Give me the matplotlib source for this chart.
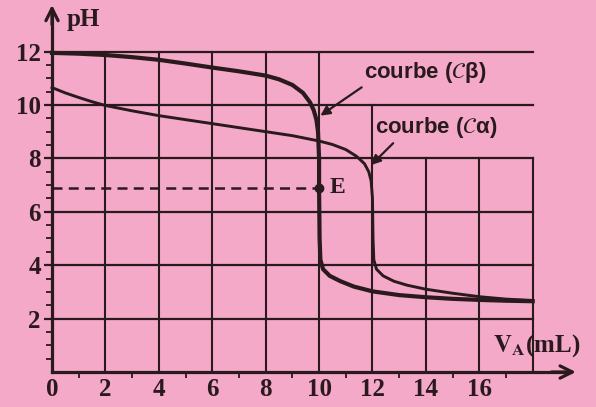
import numpy as np
import matplotlib
matplotlib.use("Agg")
import matplotlib.pyplot as plt

# values
vb_x = [0, 1, 2, 3, 4, 5, 6, 7, 8, 8.5, 9.0, 9.4, 9.66, 9.8, 9.9, 9.96, 10.0, 10.0,
        10.02, 10.05, 10.15, 10.4, 10.8, 11.3, 12, 13, 14, 15, 16, 17, 18]
ph_b = [11.95, 11.92, 11.87, 11.79, 11.69, 11.55, 11.4, 11.26, 11.1, 10.96, 10.75,
        10.45, 10.1, 9.8, 9.45, 9.0, 8.0, 6.9, 5.0, 4.2, 3.85, 3.6, 3.4, 3.2, 3.02,
        2.88, 2.8, 2.74, 2.7, 2.67, 2.65]

va_x = [0, 0.5, 1, 1.5, 2, 3, 4, 5, 6, 7, 8, 9, 10, 10.5, 11, 11.4, 11.7, 11.86, 11.95,
        12.0, 12.02, 12.05, 12.15, 12.4, 12.8, 13.3, 14, 15, 16, 17, 18]
ph_a = [10.65, 10.45, 10.28, 10.12, 9.98, 9.78, 9.6, 9.45, 9.3, 9.15, 9.0, 8.85, 8.65,
        8.52, 8.33, 8.08, 7.8, 7.5, 7.15, 6.5, 5.0, 4.2, 3.85, 3.6, 3.4, 3.25, 3.1,
        2.95, 2.82, 2.73, 2.68]

x_ticks = [0, 2, 4, 6, 8, 10, 12, 14, 16]
y_ticks = [2, 4, 6, 8, 10, 12]
ph_E = 6.9
v_E = 10

bg = "#F3A9C7"
ink = "#2A1A1E"

plt.rcParams["mathtext.fontset"] = "stix"

fig = plt.figure(figsize=(5.96, 4.07), dpi=100)
fig.patch.set_facecolor(bg)
ax = fig.add_axes([0, 0, 1, 1])
ax.set_facecolor(bg)
ax.set_xlim(-1.948, 20.37)
ax.set_ylim(-1.31, 13.93)

# grid (hand drawn, lines stop around the labels)
for y in y_ticks:
    ax.plot([0, 18], [y, y], color=ink, lw=1.6, zorder=1)
for x, top in [(2, 12), (4, 12), (6, 12), (8, 12), (10, 12), (12, 10), (14, 8), (16, 8), (18, 8)]:
    ax.plot([x, x], [0, top], color=ink, lw=1.5, zorder=1)

# axes
for s in ["top", "right"]:
    ax.spines[s].set_visible(False)
ax.spines["left"].set_position(("data", 0))
ax.spines["bottom"].set_position(("data", 0))
ax.spines["left"].set_bounds(0, 13.5)
ax.spines["bottom"].set_bounds(0, 19.4)
for s in ["left", "bottom"]:
    ax.spines[s].set_color(ink)
    ax.spines[s].set_linewidth(2.3)
ax.annotate("", xy=(0, 13.85), xytext=(0, 12.9),
            arrowprops=dict(arrowstyle="->", lw=2.3, color=ink, mutation_scale=22))
ax.annotate("", xy=(19.72, 0), xytext=(18.6, 0),
            arrowprops=dict(arrowstyle="->", lw=2.3, color=ink, mutation_scale=22))

ax.set_xticks(x_ticks)
ax.set_xticks(np.arange(1, 18, 2), minor=True)
ax.set_yticks(y_ticks)
ax.set_yticks([v for v in np.arange(0.5, 12.5, 0.5) if v not in y_ticks], minor=True)
ax.tick_params(axis="x", which="major", length=0, pad=4, colors=ink)
ax.tick_params(axis="x", which="minor", length=4, width=1.3, direction="out", colors=ink)
ax.tick_params(axis="y", which="major", length=6, width=1.6, pad=2, colors=ink)
ax.tick_params(axis="y", which="minor", length=4, width=1.3, colors=ink)
for lab in ax.get_xticklabels() + ax.get_yticklabels():
    lab.set_fontfamily("Liberation Serif")
    lab.set_fontweight("bold")
    lab.set_fontsize(18)

# curves
ax.plot(va_x, ph_a, color=ink, lw=2.1, solid_joinstyle="round", zorder=3)
ax.plot(vb_x, ph_b, color=ink, lw=3.0, solid_joinstyle="round", zorder=3)

# equivalence point E
ax.plot([0, v_E], [ph_E, ph_E], color=ink, lw=1.8, ls=(0, (4, 2.5)), zorder=2)
ax.plot([v_E], [ph_E], "o", color=ink, ms=6, zorder=4)
ax.text(10.4, ph_E, "E", fontfamily="Liberation Serif", fontweight="bold",
        fontsize=17, color=ink, va="center", ha="left")

# labels
ax.text(0.55, 13.2, "pH", fontfamily="Liberation Serif", fontweight="bold",
        fontsize=18, color=ink, va="center", ha="left")
ax.text(19.8, 1.0, r"$\mathbf{V_A}$(mL)", fontfamily="Liberation Serif",
        fontweight="bold", fontsize=18, color=ink, va="center", ha="right")

ax.annotate(r"courbe ($\mathcal{C}$β)", xy=(10.05, 9.6), xytext=(11.7, 11.2),
            fontfamily="Liberation Sans", fontweight="bold", fontsize=16, color=ink,
            va="center", ha="left",
            arrowprops=dict(arrowstyle="-|>", lw=1.6, color=ink, mutation_scale=14,
                            shrinkA=0, shrinkB=0, relpos=(0, 0)))
ax.annotate(r"courbe ($\mathcal{C}$α)", xy=(11.95, 7.75), xytext=(12.1, 9.14),
            fontfamily="Liberation Sans", fontweight="bold", fontsize=16, color=ink,
            va="center", ha="left",
            arrowprops=dict(arrowstyle="-|>", lw=1.6, color=ink, mutation_scale=14,
                            shrinkA=0, shrinkB=0, relpos=(0.17, 0)))

fig.savefig("out.png", dpi=100, facecolor=bg)
